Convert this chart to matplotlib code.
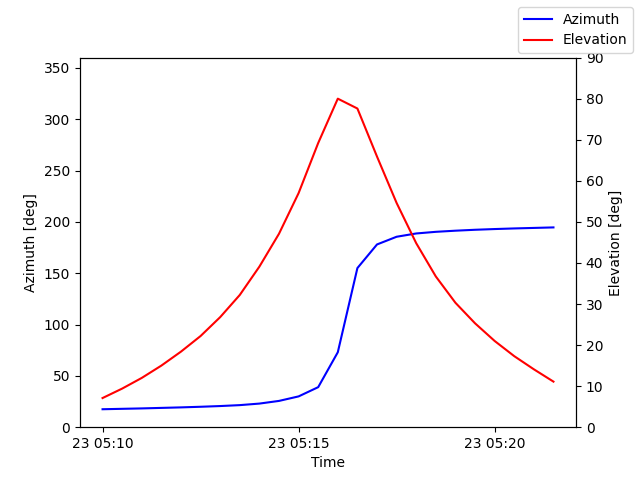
import numpy as np
import pandas as pd
import matplotlib
matplotlib.use("Agg")
import matplotlib.pyplot as plt

## Messwerte (30 s Raster)
times = pd.date_range("2023-05-23 05:10:00", "2023-05-23 05:21:30", freq="30s")

azimuth = np.array([17.5, 17.9, 18.3, 18.8, 19.3, 19.9, 20.6, 21.5, 23.0, 25.6,
                    30.0, 39.0, 73.0, 155.0, 178.0, 185.5, 188.7, 190.3, 191.4,
                    192.3, 193.0, 193.6, 194.1, 194.6])

elevation = np.array([7.1, 9.4, 12.0, 15.0, 18.4, 22.2, 26.8, 32.2, 39.1, 47.1,
                      57.0, 69.2, 80.0, 77.6, 65.9, 54.6, 44.8, 36.7, 30.3,
                      25.3, 21.0, 17.3, 14.1, 11.1])

## Plotten
fig, ax1 = plt.subplots(figsize=(6.4, 4.8), dpi=100)
ax1.plot(times, azimuth, 'b-', label='Azimuth')
ax1.set_ylim(0, 360)
ax1.set_ylabel('Azimuth [deg]')
ax1.set_xlabel('Time')

ax2 = ax1.twinx()
ax2.plot(times, elevation, 'r-', label='Elevation')
ax2.set_ylim(0, 90)
ax2.set_ylabel('Elevation [deg]')

fig.legend()
fig.savefig('out.png')
